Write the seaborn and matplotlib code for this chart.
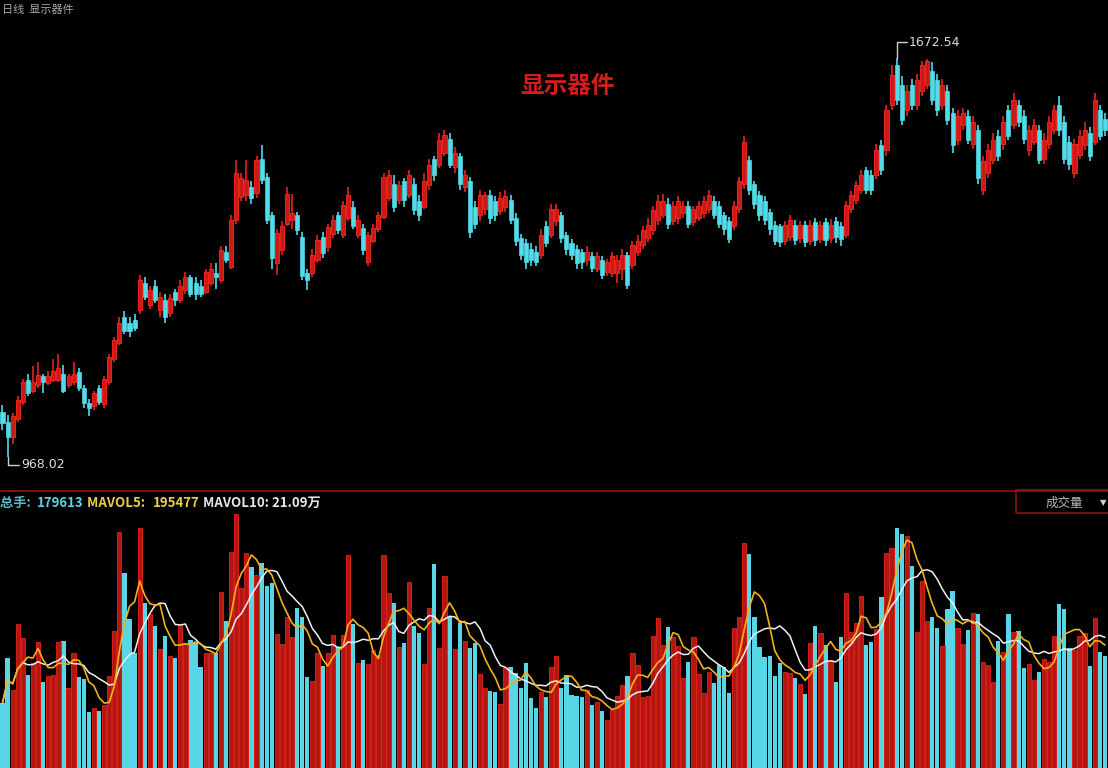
import numpy as np
import pandas as pd
import matplotlib
matplotlib.use("Agg")
import matplotlib.pyplot as plt
from matplotlib.lines import Line2D
from matplotlib.patches import Rectangle
import seaborn as sns

# ---------------- data ----------------
open_ = [1047,1030,1003,1035,1065,1104,1085,1095,1110,1098,1104,1104,1115,1095,1100,1118,1090,1064,1058,1090,
         1062,1100,1140,1170,1215,1205,1210,1227,1275,1237,1270,1228,1245,1222,1260,1245,1262,1285,1275,1270,
         1260,1275,1293,1280,1330,1303,1386,1427,1430,1445,1434,1495,1462,1395,1310,1333,1380,1386,1395,1357,
         1292,1292,1316,1356,1338,1362,1395,1360,1390,1410,1360,1372,1312,1350,1370,1392,1425,1450,1422,1455,
         1430,1450,1420,1410,1448,1495,1484,1505,1530,1480,1500,1445,1455,1410,1395,1405,1430,1420,1402,1410,
         1422,1390,1355,1345,1335,1330,1325,1375,1360,1385,1395,1360,1345,1335,1330,1315,1322,1300,1315,1295,
         1292,1292,1300,1325,1307,1330,1342,1355,1368,1386,1395,1415,1385,1390,1398,1412,1383,1390,1398,1405,
         1420,1412,1395,1385,1375,1405,1450,1492,1450,1430,1420,1400,1378,1375,1350,1356,1378,1355,1378,1350,
         1383,1352,1382,1355,1385,1376,1360,1405,1422,1440,1475,1466,1466,1519,1510,1590,1660,1625,1580,1625,
         1590,1615,1625,1650,1634,1590,1615,1575,1528,1555,1570,1520,1545,1440,1470,1492,1535,1520,1580,1555,
         1590,1570,1510,1525,1545,1495,1520,1545,1590,1560,1525,1470,1502,1518,1540,1525,1580,1565]
high = [1060,1042,1045,1075,1105,1115,1128,1135,1115,1120,1140,1150,1130,1115,1135,1125,1095,1070,1085,1095,
        1110,1150,1180,1215,1225,1215,1220,1290,1285,1270,1280,1260,1255,1255,1265,1280,1295,1290,1285,1280,
        1300,1310,1310,1340,1340,1395,1492,1470,1492,1455,1500,1519,1470,1400,1370,1385,1445,1433,1400,1365,
        1300,1335,1360,1365,1380,1395,1400,1420,1445,1420,1395,1380,1365,1380,1400,1470,1475,1466,1455,1460,
        1475,1460,1430,1470,1495,1500,1540,1545,1540,1515,1505,1475,1462,1420,1440,1435,1440,1428,1435,1440,
        1430,1398,1362,1352,1345,1340,1370,1385,1415,1415,1400,1365,1352,1342,1336,1340,1330,1330,1322,1318,
        1330,1325,1335,1330,1350,1360,1375,1390,1412,1430,1432,1425,1420,1428,1420,1420,1412,1420,1428,1440,
        1428,1420,1400,1392,1420,1462,1535,1500,1455,1438,1428,1405,1385,1380,1385,1395,1386,1385,1385,1386,
        1390,1385,1390,1388,1392,1382,1420,1438,1455,1475,1480,1475,1520,1528,1590,1660,1672.54,1640,1625,1635,
        1645,1668,1670,1665,1645,1635,1625,1585,1580,1585,1580,1570,1555,1500,1520,1540,1545,1570,1590,1610,
        1598,1580,1555,1565,1555,1540,1570,1590,1605,1570,1535,1530,1545,1560,1550,1610,1590,1575]
low = [1016,968.02,990,1030,1060,1075,1080,1090,1080,1095,1100,1100,1080,1090,1095,1085,1055,1040,1050,1060,
       1055,1095,1135,1165,1185,1180,1190,1220,1245,1230,1240,1215,1205,1215,1235,1240,1255,1250,1245,1250,
       1255,1270,1265,1275,1310,1300,1380,1420,1420,1415,1425,1450,1380,1300,1290,1325,1375,1370,1360,1280,
       1263,1285,1310,1320,1330,1355,1362,1355,1385,1370,1355,1325,1305,1345,1365,1388,1420,1400,1415,1410,
       1425,1395,1385,1405,1440,1455,1478,1500,1478,1470,1440,1435,1355,1370,1385,1395,1380,1385,1395,1400,
       1380,1340,1315,1300,1305,1305,1318,1338,1355,1375,1345,1325,1315,1300,1300,1305,1295,1295,1282,1288,
       1285,1275,1280,1265,1300,1322,1335,1348,1360,1378,1390,1370,1378,1380,1390,1372,1375,1385,1390,1398,
       1388,1372,1360,1345,1368,1398,1442,1430,1405,1385,1378,1360,1342,1338,1342,1350,1342,1345,1338,1342,
       1340,1345,1340,1345,1345,1340,1355,1398,1415,1432,1432,1430,1458,1465,1500,1580,1590,1555,1570,1580,
       1580,1605,1618,1590,1570,1580,1555,1505,1518,1545,1520,1512,1450,1430,1460,1485,1490,1510,1528,1548,
       1550,1520,1500,1518,1485,1485,1512,1538,1535,1485,1475,1460,1495,1510,1490,1518,1528,1535]
close = [1028,1003,1040,1069,1100,1080,1100,1112,1100,1110,1120,1125,1085,1110,1115,1090,1063,1055,1080,1065,
         1105,1145,1175,1205,1190,1190,1195,1280,1250,1262,1245,1250,1215,1248,1245,1270,1285,1255,1255,1255,
         1295,1300,1285,1333,1316,1386,1470,1460,1457,1425,1492,1457,1386,1320,1363,1375,1433,1398,1369,1287,
         1280,1325,1351,1328,1374,1386,1369,1413,1430,1375,1386,1333,1360,1372,1395,1462,1465,1410,1448,1422,
         1466,1404,1395,1455,1484,1466,1528,1537,1484,1505,1450,1466,1365,1380,1430,1430,1390,1395,1425,1428,
         1386,1350,1325,1312,1315,1312,1360,1345,1405,1405,1355,1335,1325,1310,1312,1330,1302,1322,1290,1312,
         1322,1315,1325,1272,1342,1350,1368,1378,1404,1420,1420,1380,1412,1420,1412,1380,1405,1412,1420,1430,
         1395,1380,1370,1352,1412,1455,1525,1440,1415,1395,1386,1370,1350,1348,1378,1386,1351,1378,1348,1378,
         1351,1378,1351,1378,1356,1352,1413,1430,1448,1466,1440,1440,1510,1475,1580,1642,1598,1563,1615,1590,
         1634,1660,1668,1598,1580,1625,1563,1518,1570,1575,1528,1560,1460,1490,1510,1528,1500,1560,1535,1598,
         1560,1530,1545,1555,1492,1528,1560,1580,1545,1495,1485,1520,1535,1545,1500,1598,1535,1545]
# volume in 万手
volume = [10.4,17.6,12.5,23.0,20.8,14.9,16.8,20.2,13.8,14.7,14.9,20.2,20.3,12.8,18.4,14.6,14.2,9.0,9.6,9.1,
          10.1,14.7,21.9,37.8,31.2,23.8,18.4,38.4,26.4,24.6,22.7,19.0,21.1,17.9,17.6,22.9,20.0,20.5,20.0,16.2,
          18.4,18.4,18.4,28.2,23.5,34.6,40.6,28.8,34.4,32.2,30.9,32.8,29.1,29.6,21.4,19.8,24.2,21.0,25.6,24.2,
          14.6,13.9,18.4,16.3,18.4,21.3,19.4,21.3,34.1,23.0,16.8,17.3,16.6,18.9,18.1,34.1,28.0,26.4,19.4,20.0,
          29.8,22.7,21.6,16.6,25.6,32.6,19.2,30.7,24.2,19.0,23.2,20.3,19.2,20.0,15.0,12.8,12.3,12.2,10.2,16.0,
          16.2,15.2,12.8,16.8,11.2,9.6,12.2,11.4,16.2,17.9,12.8,14.9,11.7,11.5,11.4,12.5,10.1,10.6,9.1,7.7,
          9.3,11.5,13.3,14.7,18.4,16.5,11.4,11.5,21.1,24.0,19.7,22.6,21.0,19.5,14.4,17.0,21.0,15.0,12.0,15.4,
          13.6,16.5,16.2,12.0,22.4,24.2,36.0,34.2,24.2,19.4,17.8,17.9,14.7,16.8,15.4,15.2,14.4,13.4,11.8,20.0,
          22.7,21.6,19.7,17.3,13.8,21.0,28.0,21.8,23.2,27.5,19.7,20.2,22.2,27.4,34.4,35.2,38.4,37.4,37.1,32.3,
          21.8,29.9,23.5,24.2,22.4,19.5,25.4,28.3,22.4,19.8,22.1,24.8,24.6,17.0,16.5,13.8,20.3,18.6,24.6,21.8,
          21.9,16.0,16.6,14.1,15.4,17.4,17.0,21.1,26.2,25.4,19.2,18.9,21.1,21.6,16.3,24.0,18.6,17.9]

title_text = "显示器件"
period_text = "日线  显示器件"
high_label = "1672.54"
low_label = "968.02"
vol_labels = ["总手: ", "179613", " MAVOL5: ", "195477", " MAVOL10: 21.09万"]
vol_box_label = "成交量"

# ---------------- styling ----------------
sns.set_theme(style="dark")
plt.rcParams["font.family"] = ["Noto Sans CJK SC", "DejaVu Sans"]

W, H = 1108, 768
RED_EDGE = "#e8231e"
RED_FILL = "#c81a16"
CYAN = "#52dbe8"
VRED = "#b3160f"
VCYAN = "#58d6e6"

n = len(close)
idx = np.arange(n)
o = np.array(open_, float); c = np.array(close, float)
hi = np.array(high, float); lo = np.array(low, float)
up = c >= o

fig = plt.figure(figsize=(W / 100, H / 100), dpi=100, facecolor="black")

def fy(px):
    return 1 - px / H

# price axes
ax = fig.add_axes([0, fy(488), 1, 488 / H])
ax.set_facecolor("black")
xlim = (-0.49, 217.6)
ax.set_xlim(*xlim)
ax.set_ylim(913, 1775)

col = np.where(up, RED_EDGE, CYAN)
ax.vlines(idx, lo, hi, colors=col, linewidth=1.2, zorder=2)
bottom = np.minimum(o, c)
height = np.maximum(np.abs(c - o), 2.0)
ax.bar(idx[up], height[up], bottom=bottom[up], width=0.8,
       color=RED_FILL, edgecolor=RED_EDGE, linewidth=0.8, zorder=3)
ax.bar(idx[~up], height[~up], bottom=bottom[~up], width=0.8,
       color=CYAN, edgecolor=CYAN, linewidth=0.5, zorder=3)

# high / low markers
ih = int(np.argmax(hi)); il = int(np.argmin(lo))
ax.plot([ih, ih, ih + 2.0], [hi[ih], 1700, 1700], color="#d0d0d0", lw=1, zorder=4)
ax.text(ih + 2.3, 1700, high_label, color="#dcdcdc", fontsize=9, va="center", ha="left",
        family=["DejaVu Sans"])
ax.plot([il, il, il + 2.3], [lo[il], 954, 954], color="#d0d0d0", lw=1, zorder=4)
ax.text(il + 2.6, 954, low_label, color="#dcdcdc", fontsize=9, va="center", ha="left",
        family=["DejaVu Sans"])
for s in ax.spines.values():
    s.set_visible(False)
ax.set_xticks([]); ax.set_yticks([])
ax.grid(False)

# volume axes
axv = fig.add_axes([0, 0, 1, 276 / H])
axv.set_facecolor("black")
df = pd.DataFrame({"i": idx, "vol": volume, "dir": np.where(up, "up", "down")})
sns.barplot(data=df, x="i", y="vol", hue="dir", palette={"up": VRED, "down": VCYAN},
            native_scale=True, width=0.84, dodge=False, legend=False, errorbar=None,
            saturation=1, ax=axv, linewidth=0)
for p in axv.patches:
    if p.get_facecolor()[0] > 0.5:
        p.set_edgecolor(RED_EDGE); p.set_linewidth(0.6)
ma5 = pd.Series(volume).rolling(5, min_periods=1).mean()
ma10 = pd.Series(volume).rolling(10, min_periods=1).mean()
sns.lineplot(x=idx, y=ma10.values, color="#f0f0f0", lw=1.1, ax=axv, zorder=5)
sns.lineplot(x=idx, y=ma5.values, color="#f2b01e", lw=1.2, ax=axv, zorder=6)
axv.set_xlim(*xlim)
axv.set_ylim(0, 44.2)
for s in axv.spines.values():
    s.set_visible(False)
axv.set_xticks([]); axv.set_yticks([])
axv.set_xlabel(""); axv.set_ylabel("")
axv.grid(False)

# separator and box
fig.add_artist(Line2D([0, 1], [fy(490.5), fy(490.5)], color="#8c1212", lw=1.3))
fig.add_artist(Rectangle((1016 / W, fy(513)), 100 / W, 23 / H, fill=False,
                         edgecolor="#8c1212", lw=1.2, transform=fig.transFigure))
fig.text(1046 / W, fy(503), vol_box_label, color="#b8b8b8", fontsize=9, va="center", ha="left")
fig.text(1100 / W, fy(503), "▼", color="#d0d0d0", fontsize=6, va="center", ha="left",
         family=["DejaVu Sans"])

# texts
fig.text(2 / W, fy(10), period_text, color="#a8a8a8", fontsize=8, va="center", ha="left")
fig.text(568 / W, fy(86), title_text, color="#d41c1c", fontsize=17, fontweight="bold",
         va="center", ha="center")

xs = [0, 37, 84, 153, 200]
cols = ["#58b8c4", "#5cd2e2", "#e6cf45", "#e6cf45", "#e6e6e6"]
for x, t, cc in zip(xs, vol_labels, cols):
    fig.text(x / W, fy(503), t, color=cc, fontsize=9.5, va="center", ha="left", fontweight="bold")

fig.savefig("out.png", dpi=100, facecolor="black")
